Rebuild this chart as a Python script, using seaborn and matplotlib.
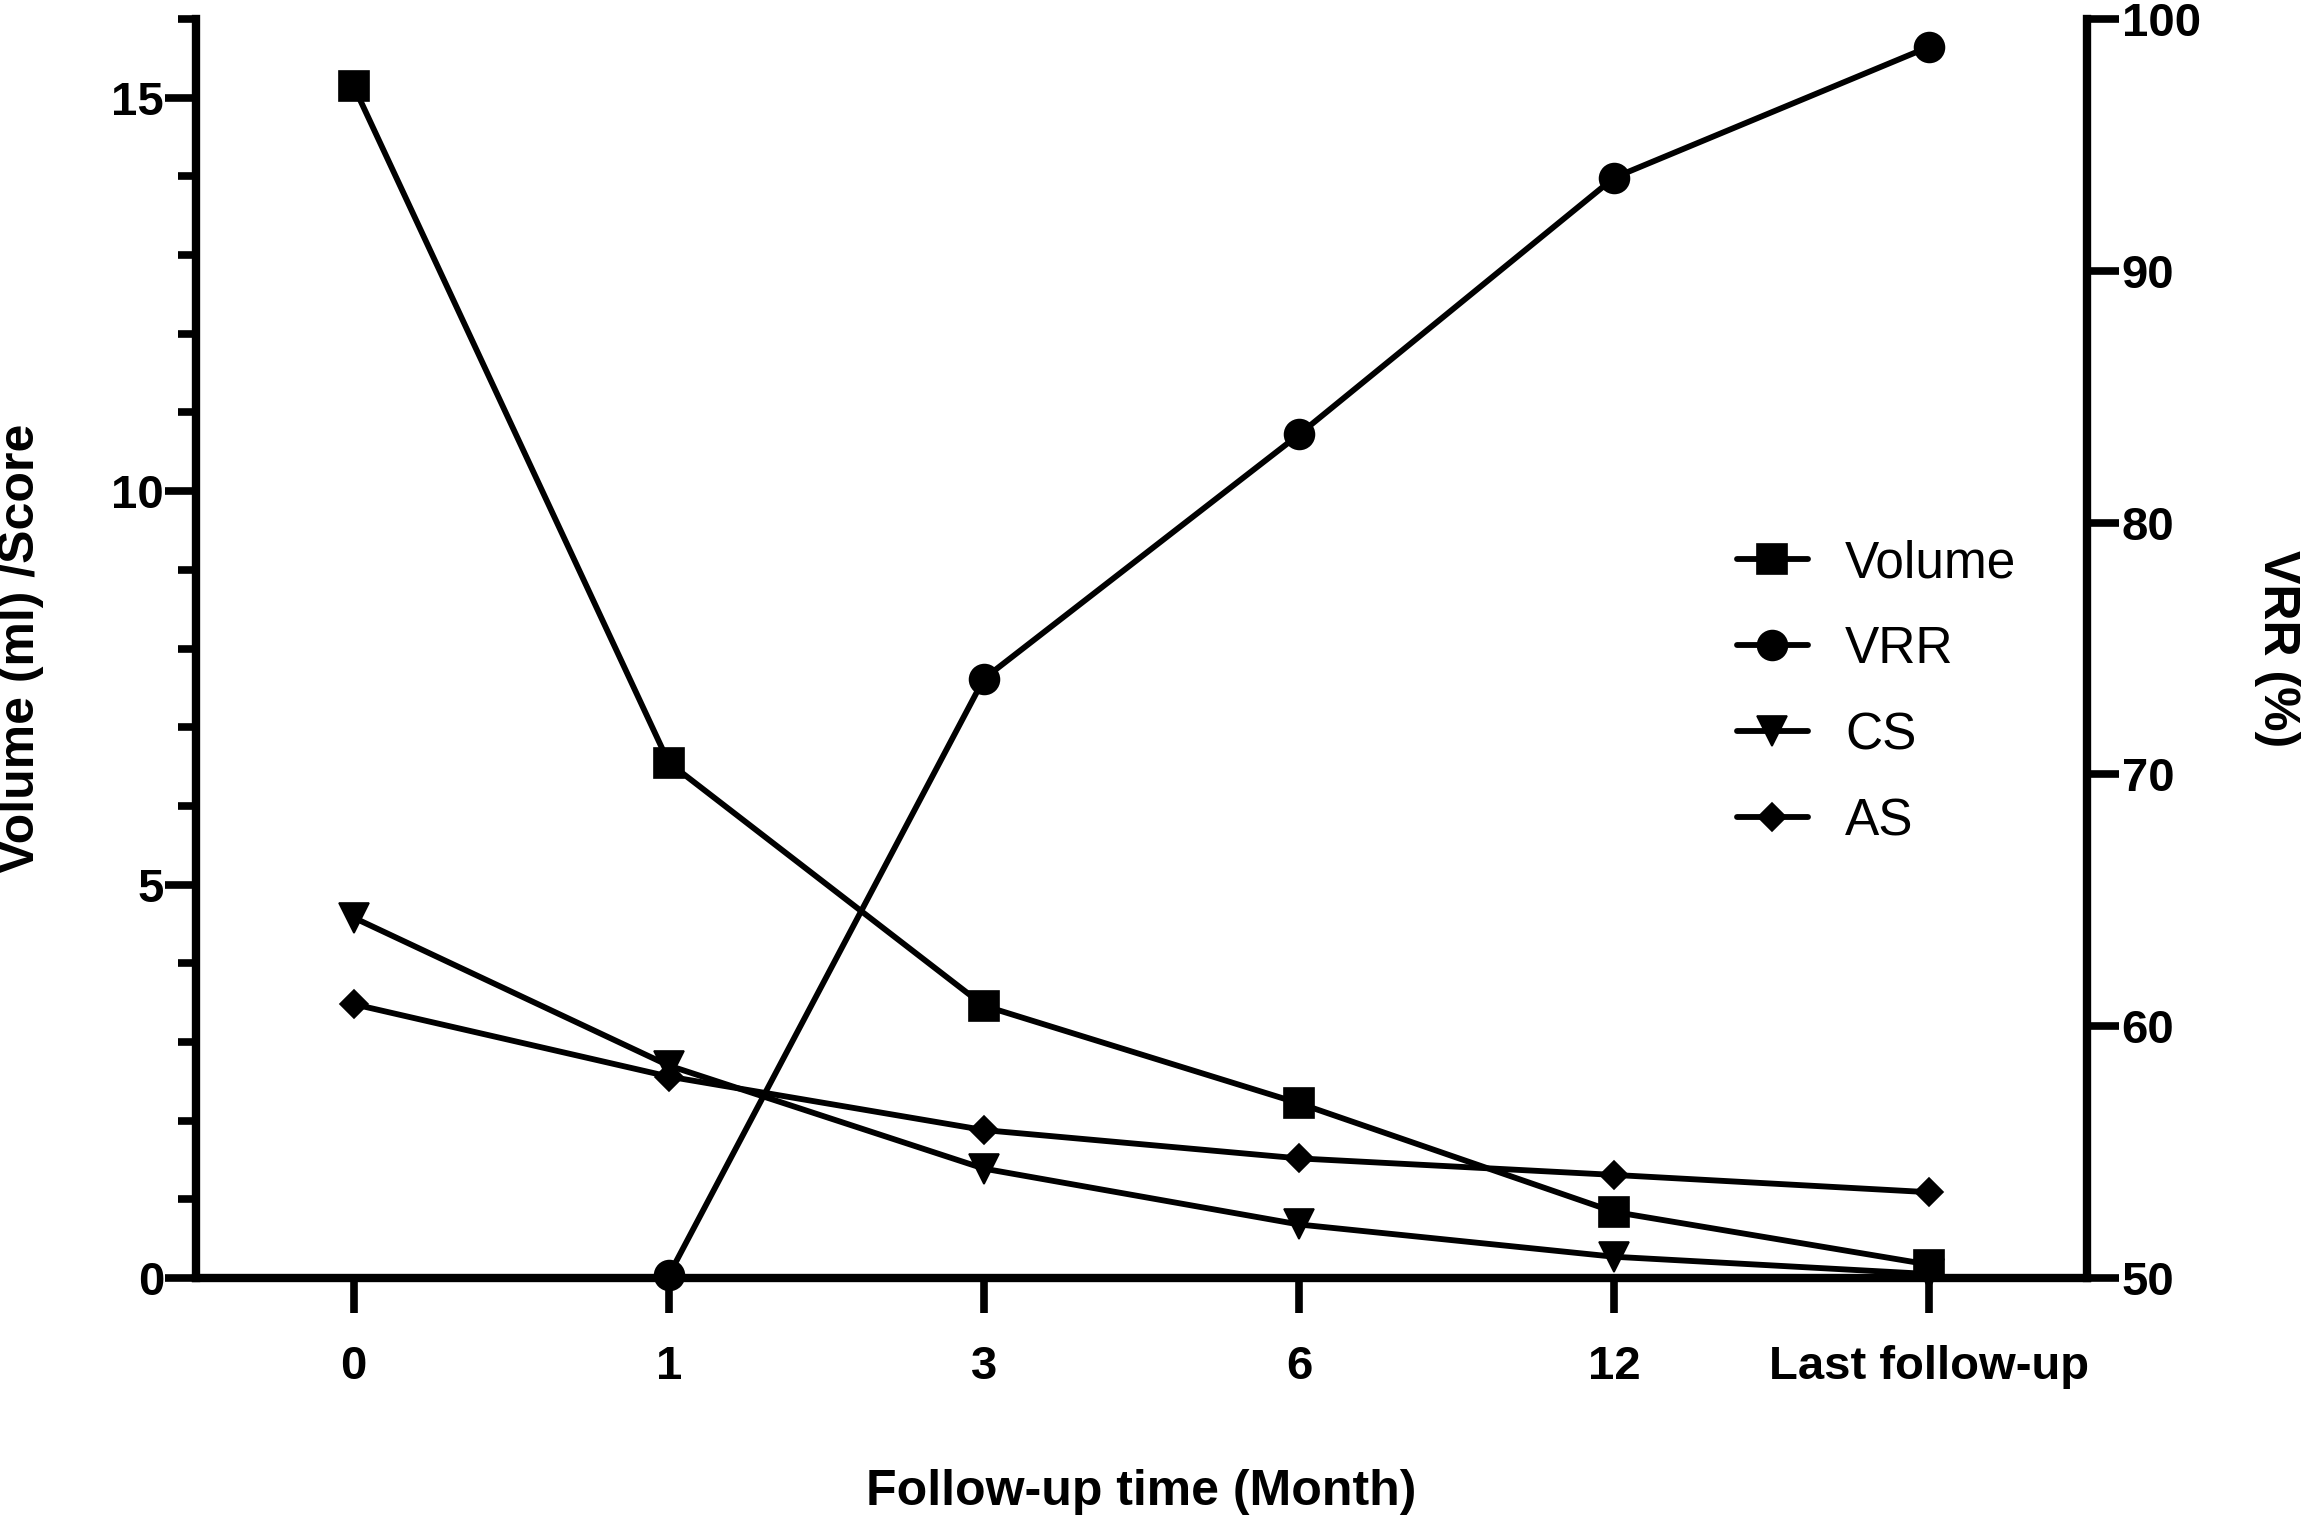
import matplotlib
matplotlib.use("Agg")
import matplotlib.pyplot as plt
from matplotlib.ticker import FixedLocator
import seaborn as sns
import pandas as pd

# ---- data ----
categories = ["0", "1", "3", "6", "12", "Last follow-up"]
volume = [15.15, 6.55, 3.46, 2.22, 0.84, 0.17]
vrr = [None, 50.1, 73.8, 83.5, 93.7, 98.9]
cs = [4.58, 2.70, 1.39, 0.68, 0.27, 0.05]
as_score = [3.48, 2.56, 1.88, 1.52, 1.31, 1.09]
legend_labels = ["Volume", "VRR", "CS", "AS"]

sns.set_style("ticks")
plt.rcParams["font.family"] = ["Liberation Sans", "DejaVu Sans"]
for k in ("text.color", "axes.labelcolor", "xtick.color", "ytick.color", "axes.edgecolor"):
    plt.rcParams[k] = "black"

W, H, DPI = 2303, 1519, 100
fig = plt.figure(figsize=(W / DPI, H / DPI), dpi=DPI)
L, R, B, T = 196, 2087, 1278, 19
ax = fig.add_axes([L / W, 1 - B / H, (R - L) / W, (B - T) / H])
ax2 = ax.twinx()
ax.set_zorder(1)
ax2.set_zorder(2)
ax.patch.set_visible(False)
ax2.patch.set_visible(False)

pos = list(range(len(categories)))
df = pd.DataFrame({"pos": pos, "Volume": volume, "CS": cs, "AS": as_score})
df_vrr = pd.DataFrame({"pos": pos[1:], "VRR": vrr[1:]})

LW = 4.2
common = dict(color="black", linewidth=LW, markeredgecolor="black",
              markeredgewidth=1.2, legend=False, clip_on=False)
sns.lineplot(data=df, x="pos", y="Volume", marker="s", markersize=21.5, ax=ax, **common)
sns.lineplot(data=df, x="pos", y="CS", marker="v", markersize=21.5, ax=ax, **common)
sns.lineplot(data=df, x="pos", y="AS", marker="D", markersize=14.5, ax=ax, **common)
sns.lineplot(data=df_vrr, x="pos", y="VRR", marker="o", markersize=21.5, ax=ax2, **common)

# axes limits & ticks
ax.set_xlim(-0.5, 5.5)
ax.set_ylim(0, 16)
ax2.set_ylim(50, 100)
ax.set_xticks(pos)
ax.set_xticklabels(categories)
ax.set_yticks([0, 5, 10, 15])
ax.yaxis.set_minor_locator(FixedLocator([i for i in range(17) if i % 5 != 0]))
ax2.set_yticks([50, 60, 70, 80, 90, 100])

SPW = 6.0
for a in (ax, ax2):
    for s in a.spines.values():
        s.set_linewidth(SPW)
        s.set_color("black")
    a.spines["top"].set_visible(False)
ax.spines["right"].set_visible(False)
ax2.spines["left"].set_visible(False)
ax2.spines["bottom"].set_visible(False)

TFS = 34
ax.tick_params(axis="x", which="major", direction="out", length=25, width=5.5,
               pad=23, labelsize=TFS, colors="black")
ax.tick_params(axis="y", which="major", direction="out", length=22, width=5.5,
               pad=1, labelsize=TFS, colors="black")
ax.tick_params(axis="y", which="minor", direction="out", length=13, width=5.5, colors="black")
ax2.tick_params(axis="y", which="major", direction="out", length=23, width=5.5,
                pad=2, labelsize=TFS, colors="black")
for lab in ax.get_xticklabels() + ax.get_yticklabels() + ax2.get_yticklabels():
    lab.set_fontweight("bold")

LFS = 36
ax.set_xlabel("Follow-up time (Month)", fontsize=LFS, fontweight="bold", color="black")
ax.xaxis.set_label_coords(0.5, -0.170)
ax.xaxis.label.set_verticalalignment("center")
ax.set_ylabel("Volume (ml) /Score", fontsize=LFS, fontweight="bold", color="black")
ax.yaxis.set_label_coords(-0.0925, 0.5)
ax.yaxis.label.set_verticalalignment("center")
ax2.set_ylabel("VRR (%)", fontsize=LFS, fontweight="bold", rotation=270, color="black")
ax2.yaxis.set_label_coords(1.1005, 0.5)
ax2.yaxis.label.set_verticalalignment("center")

# legend
lines_ax = ax.get_lines()
lines_ax2 = ax2.get_lines()
handles = [lines_ax[0], lines_ax2[0], lines_ax[1], lines_ax[2]]
leg = ax2.legend(handles, legend_labels, loc="upper left",
                 bbox_to_anchor=(1737 / W, 1 - 539 / H), bbox_transform=fig.transFigure,
                 frameon=False, fontsize=37, borderpad=0, borderaxespad=0,
                 handlelength=1.38, handletextpad=0.72, labelspacing=0.72)
for t in leg.get_texts():
    t.set_color("black")

fig.savefig("out.png", dpi=DPI, facecolor="white")
